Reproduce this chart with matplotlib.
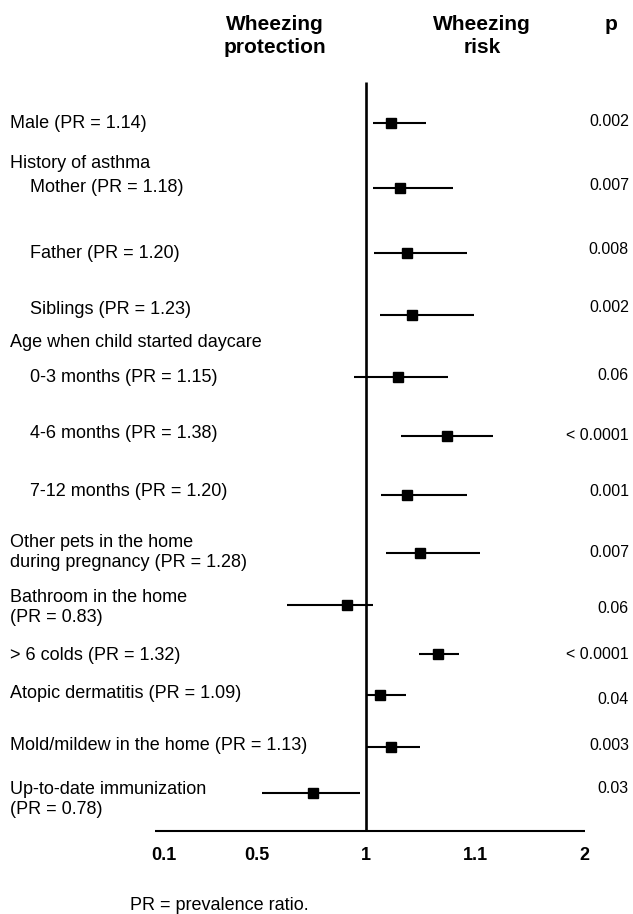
import matplotlib
matplotlib.use("Agg")
import matplotlib.pyplot as plt

plt.rcParams['font.family'] = ['Liberation Sans', 'DejaVu Sans']

# --- data (x in the chart's own horizontal units: tick "1" sits at 2) ---
labels = [
    "Male (PR = 1.14)",
    "Mother (PR = 1.18)",
    "Father (PR = 1.20)",
    "Siblings (PR = 1.23)",
    "0-3 months (PR = 1.15)",
    "4-6 months (PR = 1.38)",
    "7-12 months (PR = 1.20)",
    "Other pets in the home\nduring pregnancy (PR = 1.28)",
    "Bathroom in the home\n(PR = 0.83)",
    "> 6 colds (PR = 1.32)",
    "Atopic dermatitis (PR = 1.09)",
    "Mold/mildew in the home (PR = 1.13)",
    "Up-to-date immunization\n(PR = 0.78)",
]
est = [2.232, 2.315, 2.379, 2.425, 2.296, 2.746, 2.379, 2.498, 1.828, 2.663, 2.131, 2.232, 1.517]
ci_lo = [2.067, 2.067, 2.073, 2.128, 1.890, 2.321, 2.138, 2.183, 1.275, 2.489, 2.006, 2.006, 1.046]
ci_hi = [2.548, 2.795, 2.924, 2.988, 2.750, 3.162, 2.924, 3.043, 2.061, 2.850, 2.364, 2.493, 1.942]
p_values = ["0.002", "0.007", "0.008", "0.002", "0.06", "< 0.0001", "0.001",
            "0.007", "0.06", "< 0.0001", "0.04", "0.003", "0.03"]
group_headers = ["History of asthma", "Age when child started daycare"]
tick_labels = ["0.1", "0.5", "1", "1.1", "2"]

# --- layout (figure is 633 x 914 px, y measured from the top) ---
row_y = [122.7, 187.7, 252.7, 314.7, 376.7, 435.7, 494.7, 553.3, 605.3, 654.3, 694.7, 746.7, 793.3]
label_y = [123.5, 187.5, 253, 310, 377, 434, 492, 552.5, 607.5, 655, 694, 746, 799.5]
indented = [False, True, True, True, True, True, True, False, False, False, False, False, False]
p_y = [121.5, 186, 249.5, 307, 375, 435, 491.5, 552.5, 608.5, 654.5, 699, 746, 788.5]
group_y = [163.5, 342.5]
tick_pos = [0.15, 1.0, 2.0, 3.0, 4.0]
px = 109.0  # pixels per x unit


def xu(p):
    return (p - 366) / px + 2


fig = plt.figure(figsize=(6.33, 9.14), dpi=100)
ax = fig.add_axes([0, 0, 1, 1])
ax.set_xlim(xu(0), xu(633))
ax.set_ylim(914, 0)
ax.axis('off')

# reference line and bottom axis line
ax.vlines(2.0, 82, 831, color='black', linewidth=1.9)
ax.hlines(831, xu(155), xu(585), color='black', linewidth=1.5)

# confidence intervals and point estimates
ax.hlines(row_y, ci_lo, ci_hi, color='black', linewidth=1.5)
ax.plot(est, row_y, linestyle='none', marker='s', markersize=6.6,
        color='black')

# left labels
for lab, y, ind in zip(labels, label_y, indented):
    ax.text(xu(30 if ind else 10), y, lab, fontsize=13, ha='left', va='center',
            linespacing=1.2)
for g, y in zip(group_headers, group_y):
    ax.text(xu(10), y, g, fontsize=13, ha='left', va='center')

# p values
for pv, y in zip(p_values, p_y):
    ax.text(xu(629), y, pv, fontsize=11.5, ha='right', va='center')

# tick labels
for t, lab in zip(tick_pos, tick_labels):
    ax.text(t, 856, lab, fontsize=13, fontweight='bold', ha='center', va='center')

# headers
ax.text(xu(275), 36, "Wheezing\nprotection", fontsize=15, fontweight='bold',
        ha='center', va='center', linespacing=1.3)
ax.text(xu(482), 36, "Wheezing\nrisk", fontsize=15, fontweight='bold',
        ha='center', va='center', linespacing=1.3)
ax.text(xu(611), 24, "p", fontsize=15, fontweight='bold', ha='center', va='center')

ax.text(xu(130), 905, "PR = prevalence ratio.", fontsize=13, ha='left', va='center')

fig.savefig("out.png", dpi=100)
